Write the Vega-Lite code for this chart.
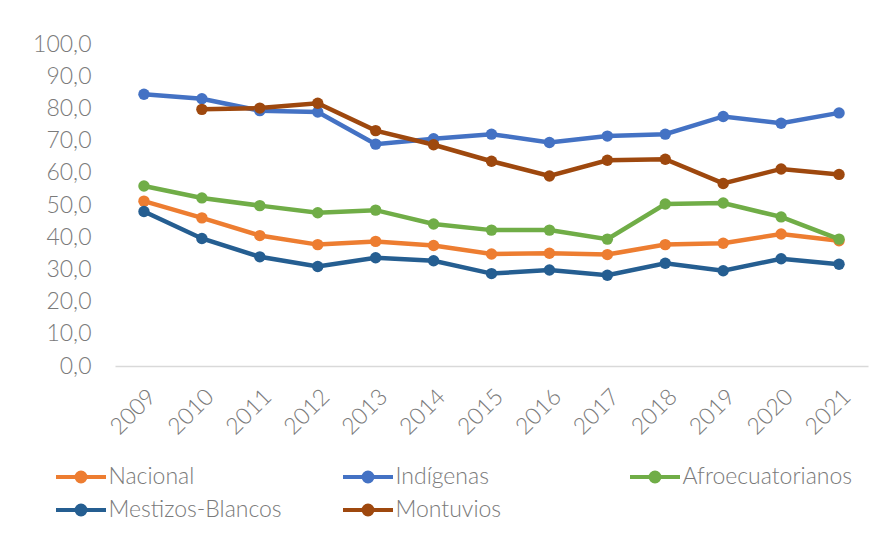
{
  "$schema": "https://vega.github.io/schema/vega-lite/v6.json",
  "autosize": {"type": "none"},
  "width": 753,
  "height": 322,
  "padding": {"left": 115, "top": 44, "right": 16, "bottom": 189},
  "background": "white",
  "config": {
    "view": {"stroke": null},
    "font": "Lato",
    "axis": {"labelFont": "Lato", "labelFontWeight": 300, "labelColor": "#7a7a7a", "grid": false, "ticks": false, "title": null},
    "legend": {"labelFont": "Lato", "labelFontWeight": 300, "labelColor": "#7a7a7a"}
  },
  "data": {
    "values": [
      {"year": "2009", "serie": "Nacional", "valor": 51.2},
      {"year": "2010", "serie": "Nacional", "valor": 46.0},
      {"year": "2011", "serie": "Nacional", "valor": 40.5},
      {"year": "2012", "serie": "Nacional", "valor": 37.7},
      {"year": "2013", "serie": "Nacional", "valor": 38.7},
      {"year": "2014", "serie": "Nacional", "valor": 37.4},
      {"year": "2015", "serie": "Nacional", "valor": 34.8},
      {"year": "2016", "serie": "Nacional", "valor": 35.0},
      {"year": "2017", "serie": "Nacional", "valor": 34.6},
      {"year": "2018", "serie": "Nacional", "valor": 37.7},
      {"year": "2019", "serie": "Nacional", "valor": 38.1},
      {"year": "2020", "serie": "Nacional", "valor": 41.0},
      {"year": "2021", "serie": "Nacional", "valor": 38.9},
      {"year": "2009", "serie": "Indígenas", "valor": 84.4},
      {"year": "2010", "serie": "Indígenas", "valor": 83.0},
      {"year": "2011", "serie": "Indígenas", "valor": 79.3},
      {"year": "2012", "serie": "Indígenas", "valor": 78.9},
      {"year": "2013", "serie": "Indígenas", "valor": 68.9},
      {"year": "2014", "serie": "Indígenas", "valor": 70.6},
      {"year": "2015", "serie": "Indígenas", "valor": 72.0},
      {"year": "2016", "serie": "Indígenas", "valor": 69.4},
      {"year": "2017", "serie": "Indígenas", "valor": 71.4},
      {"year": "2018", "serie": "Indígenas", "valor": 72.0},
      {"year": "2019", "serie": "Indígenas", "valor": 77.5},
      {"year": "2020", "serie": "Indígenas", "valor": 75.4},
      {"year": "2021", "serie": "Indígenas", "valor": 78.6},
      {"year": "2009", "serie": "Afroecuatorianos", "valor": 55.9},
      {"year": "2010", "serie": "Afroecuatorianos", "valor": 52.2},
      {"year": "2011", "serie": "Afroecuatorianos", "valor": 49.8},
      {"year": "2012", "serie": "Afroecuatorianos", "valor": 47.6},
      {"year": "2013", "serie": "Afroecuatorianos", "valor": 48.4},
      {"year": "2014", "serie": "Afroecuatorianos", "valor": 44.1},
      {"year": "2015", "serie": "Afroecuatorianos", "valor": 42.2},
      {"year": "2016", "serie": "Afroecuatorianos", "valor": 42.2},
      {"year": "2017", "serie": "Afroecuatorianos", "valor": 39.4},
      {"year": "2018", "serie": "Afroecuatorianos", "valor": 50.3},
      {"year": "2019", "serie": "Afroecuatorianos", "valor": 50.6},
      {"year": "2020", "serie": "Afroecuatorianos", "valor": 46.3},
      {"year": "2021", "serie": "Afroecuatorianos", "valor": 39.4},
      {"year": "2009", "serie": "Mestizos-Blancos", "valor": 48.0},
      {"year": "2010", "serie": "Mestizos-Blancos", "valor": 39.6},
      {"year": "2011", "serie": "Mestizos-Blancos", "valor": 33.9},
      {"year": "2012", "serie": "Mestizos-Blancos", "valor": 30.9},
      {"year": "2013", "serie": "Mestizos-Blancos", "valor": 33.6},
      {"year": "2014", "serie": "Mestizos-Blancos", "valor": 32.7},
      {"year": "2015", "serie": "Mestizos-Blancos", "valor": 28.7},
      {"year": "2016", "serie": "Mestizos-Blancos", "valor": 29.8},
      {"year": "2017", "serie": "Mestizos-Blancos", "valor": 28.2},
      {"year": "2018", "serie": "Mestizos-Blancos", "valor": 31.9},
      {"year": "2019", "serie": "Mestizos-Blancos", "valor": 29.6},
      {"year": "2020", "serie": "Mestizos-Blancos", "valor": 33.3},
      {"year": "2021", "serie": "Mestizos-Blancos", "valor": 31.6},
      {"year": "2010", "serie": "Montuvios", "valor": 79.7},
      {"year": "2011", "serie": "Montuvios", "valor": 80.1},
      {"year": "2012", "serie": "Montuvios", "valor": 81.6},
      {"year": "2013", "serie": "Montuvios", "valor": 73.1},
      {"year": "2014", "serie": "Montuvios", "valor": 68.7},
      {"year": "2015", "serie": "Montuvios", "valor": 63.6},
      {"year": "2016", "serie": "Montuvios", "valor": 59.0},
      {"year": "2017", "serie": "Montuvios", "valor": 63.9},
      {"year": "2018", "serie": "Montuvios", "valor": 64.2},
      {"year": "2019", "serie": "Montuvios", "valor": 56.7},
      {"year": "2020", "serie": "Montuvios", "valor": 61.2},
      {"year": "2021", "serie": "Montuvios", "valor": 59.5}
    ]
  },
  "encoding": {
    "x": {
      "field": "year", "type": "ordinal",
      "scale": {"type": "point", "padding": 0.5},
      "axis": {"labelAngle": -45, "labelFontSize": 23, "labelPadding": 19, "domainColor": "#d9d9d9", "domainWidth": 1.5}
    },
    "y": {
      "field": "valor", "type": "quantitative",
      "scale": {"domain": [0, 100], "nice": false},
      "axis": {"values": [0, 10, 20, 30, 40, 50, 60, 70, 80, 90, 100], "domain": false, "labelFontSize": 23, "labelPadding": 24,
               "labelExpr": "replace(format(datum.value, '.1f'), '.', ',')"}
    },
    "color": {
      "field": "serie", "type": "nominal",
      "sort": ["Nacional", "Indígenas", "Afroecuatorianos", "Mestizos-Blancos", "Montuvios"],
      "scale": {"domain": ["Nacional", "Indígenas", "Afroecuatorianos", "Mestizos-Blancos", "Montuvios"],
                "range": ["#ED7D31", "#4472C4", "#70AD47", "#255E91", "#9E480E"]},
      "legend": {
        "title": null, "orient": "none", "legendX": -48.5, "legendY": 418.5,
        "direction": "horizontal", "columns": 3, "gridAlign": "all", "columnPadding": 52, "rowPadding": 6,
        "padding": 0,
        "symbolType": "M-2,0H2M0.36,0A0.36,0.36,0,1,1,-0.36,0A0.36,0.36,0,1,1,0.36,0Z",
        "symbolSize": 625, "symbolStrokeWidth": 4, "labelOffset": 13, "labelFontSize": 23, "labelLimit": 400,
        "encode": {"symbols": {"update": {"stroke": {"scale": "color", "field": "value"}, "fill": {"scale": "color", "field": "value"}, "opacity": {"value": 1}}}}
      }
    },
    "order": {"field": "year"}
  },
  "layer": [
    {
      "mark": {"type": "line", "strokeWidth": 4.5}
    },
    {
      "mark": {"type": "point", "filled": true, "opacity": 1, "size": 130}
    }
  ]
}
